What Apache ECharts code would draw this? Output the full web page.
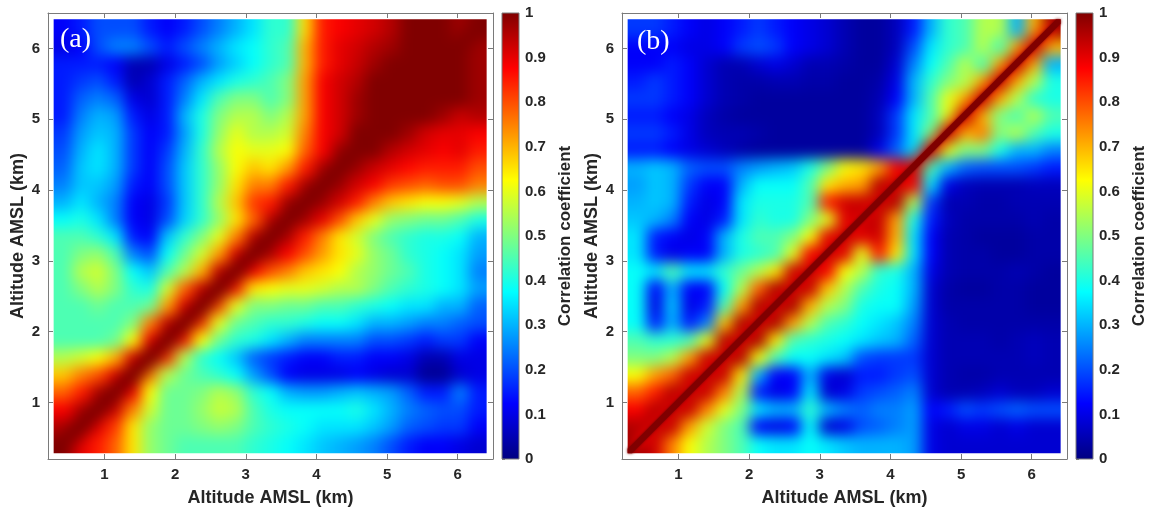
<!DOCTYPE html>
<html>
<head>
<meta charset="utf-8">
<title>Altitude correlation matrices</title>
<script src="https://cdn.jsdelivr.net/npm/echarts@6/dist/echarts.min.js"></script>
<style>
  html, body { margin: 0; padding: 0; background: #fff; }
  #wrap { position: relative; width: 1150px; height: 517px; }
  #heat, #frame { position: absolute; left: 0; top: 0; width: 1150px; height: 517px; }
  /* the measured matrix is drawn blocky, this softens it like the original imagesc output */
  #heat { filter: blur(7px); }
</style>
</head>
<body>
<div id="wrap">
  <div id="heat"></div>
  <div id="frame"></div>
</div>
<script>
// cell centres (km AMSL), same for both axes; rows of the matrices go bottom -> top
var altitudes = [0.42, 0.67, 0.91, 1.15, 1.40, 1.64, 1.89, 2.13, 2.37, 2.62, 2.86, 3.11, 3.35,
                 3.59, 3.84, 4.08, 4.33, 4.57, 4.81, 5.06, 5.30, 5.55, 5.79, 6.03, 6.28];
var altRange = [0.28, 6.41];
var kmTicks = [1, 2, 3, 4, 5, 6];
var colorTicks = [0, 1];

// panel (a)
var corrA = [
  [1, .9, .85, .78, .65, .52, .48, .45, .45, .45, .45, .42, .4, .38, .35, .32, .3, .28, .25, .2, .15, .12, .12, .1, .08],
  [.95, 1, .9, .82, .65, .52, .48, .48, .5, .52, .5, .45, .42, .4, .38, .35, .35, .35, .32, .28, .22, .2, .18, .18, .12],
  [.88, .95, 1, .92, .75, .58, .48, .48, .52, .57, .55, .45, .4, .38, .38, .38, .38, .4, .35, .3, .25, .22, .2, .2, .15],
  [.78, .85, .95, 1, .88, .62, .48, .48, .5, .55, .52, .42, .38, .3, .28, .28, .3, .32, .3, .28, .22, .15, .15, .25, .15],
  [.68, .75, .8, .9, 1, .75, .55, .48, .45, .42, .38, .28, .2, .12, .1, .1, .1, .12, .1, .08, .08, .02, .02, .08, .1],
  [.55, .58, .62, .7, .9, 1, .82, .55, .42, .38, .32, .22, .18, .15, .12, .12, .15, .15, .12, .12, .1, .05, .05, .1, .1],
  [.45, .45, .45, .48, .62, .88, 1, .85, .62, .48, .42, .4, .35, .3, .25, .25, .25, .25, .2, .2, .18, .15, .18, .18, .12],
  [.45, .45, .45, .45, .5, .75, .92, 1, .82, .6, .48, .45, .42, .42, .4, .38, .38, .35, .3, .3, .28, .25, .25, .22, .2],
  [.45, .45, .48, .45, .45, .48, .72, .9, 1, .8, .6, .5, .5, .48, .48, .45, .45, .42, .4, .38, .35, .35, .3, .3, .22],
  [.45, .5, .55, .5, .42, .4, .58, .78, .92, 1, .85, .65, .62, .6, .6, .58, .55, .55, .5, .45, .42, .4, .38, .35, .28],
  [.45, .55, .58, .5, .38, .32, .45, .55, .7, .92, 1, .88, .8, .75, .68, .65, .62, .55, .52, .48, .45, .4, .38, .35, .25],
  [.45, .5, .52, .45, .25, .2, .38, .48, .58, .72, .9, 1, .95, .88, .8, .72, .65, .6, .52, .48, .42, .4, .38, .35, .28],
  [.45, .45, .42, .35, .15, .12, .32, .42, .5, .6, .75, .93, 1, .95, .85, .75, .65, .58, .5, .45, .42, .4, .4, .38, .3],
  [.38, .4, .35, .25, .12, .1, .2, .33, .42, .52, .65, .78, .93, 1, .96, .9, .8, .68, .6, .52, .5, .48, .48, .45, .4],
  [.3, .35, .3, .25, .12, .1, .18, .32, .42, .55, .68, .82, .85, .96, 1, .97, .92, .85, .75, .68, .65, .62, .62, .6, .55],
  [.25, .32, .32, .28, .15, .12, .2, .32, .42, .52, .65, .75, .75, .85, .95, 1, .97, .92, .88, .82, .8, .78, .8, .8, .75],
  [.22, .32, .35, .3, .18, .12, .2, .32, .42, .52, .62, .68, .65, .72, .85, .95, 1, .97, .93, .9, .87, .85, .85, .85, .8],
  [.2, .3, .35, .3, .18, .12, .18, .3, .42, .55, .62, .6, .6, .62, .78, .88, .97, 1, 1, .95, .92, .9, .88, .9, .85],
  [.18, .28, .32, .3, .18, .12, .15, .28, .4, .52, .6, .55, .55, .58, .75, .88, .92, 1, 1, 1, .97, .92, .9, .9, .88],
  [.15, .25, .3, .28, .15, .1, .15, .3, .4, .5, .55, .55, .5, .55, .72, .88, .92, .97, 1, 1, 1, 1, .97, .93, .95],
  [.15, .22, .25, .22, .1, .08, .15, .25, .35, .45, .5, .5, .45, .5, .72, .88, .92, .97, 1, 1, 1, 1, 1, 1, .97],
  [.15, .18, .2, .15, .05, .08, .15, .22, .3, .35, .4, .42, .45, .5, .72, .88, .92, .95, 1, 1, 1, 1, 1, 1, .97],
  [.15, .15, .15, .12, .05, .05, .1, .15, .2, .28, .33, .38, .42, .45, .7, .85, .9, .93, .97, 1, 1, 1, 1, 1, .97],
  [.1, .12, .2, .25, .25, .2, .15, .2, .25, .3, .35, .38, .42, .45, .7, .85, .9, .92, .95, .97, 1, 1, 1, 1, .97],
  [.12, .15, .2, .2, .2, .15, .12, .15, .2, .25, .3, .35, .42, .42, .66, .85, .88, .9, .92, .95, 1, 1, 1, .97, 1]
];

// panel (b)
var corrB = [
  [1, .92, .75, .62, .55, .5, .45, .38, .35, .35, .38, .35, .32, .3, .3, .3, .28, .1, .08, .08, .08, .08, .08, .08, .08],
  [.95, 1, .93, .72, .58, .5, .45, .12, .1, .12, .38, .08, .1, .2, .22, .25, .28, .1, .08, .1, .1, .08, .1, .08, .08],
  [.88, .95, 1, .93, .75, .6, .5, .35, .3, .3, .42, .3, .25, .22, .25, .25, .28, .12, .15, .2, .18, .2, .22, .2, .2],
  [.78, .85, .95, 1, .93, .75, .55, .15, .1, .12, .35, .08, .1, .18, .2, .22, .25, .08, .05, .05, .06, .08, .06, .06, .08],
  [.62, .72, .78, .93, 1, .93, .65, .3, .12, .12, .3, .1, .08, .15, .15, .18, .2, .08, .05, .04, .04, .05, .05, .05, .05],
  [.5, .5, .55, .72, .93, 1, .95, .62, .45, .38, .38, .35, .32, .2, .18, .18, .18, .08, .05, .05, .05, .05, .05, .06, .05],
  [.45, .42, .42, .45, .6, .95, 1, .96, .65, .45, .42, .4, .38, .35, .32, .3, .22, .08, .05, .05, .05, .04, .05, .06, .05],
  [.38, .15, .3, .15, .25, .68, .96, 1, .96, .72, .55, .45, .42, .38, .35, .32, .25, .08, .05, .04, .04, .04, .04, .04, .04],
  [.38, .1, .32, .1, .15, .45, .72, .96, 1, .96, .7, .55, .5, .4, .38, .38, .28, .08, .04, .04, .04, .04, .04, .03, .03],
  [.38, .12, .3, .12, .12, .38, .55, .78, .96, 1, .93, .68, .55, .45, .4, .38, .3, .08, .04, .03, .03, .04, .04, .03, .03],
  [.38, .35, .45, .35, .35, .42, .48, .55, .65, .93, 1, .88, .62, .55, .42, .4, .3, .1, .05, .04, .04, .04, .05, .04, .03],
  [.35, .15, .1, .12, .12, .3, .4, .42, .45, .6, .88, 1, .9, .6, .85, .65, .35, .12, .05, .04, .04, .03, .03, .04, .04],
  [.35, .15, .12, .1, .12, .3, .4, .45, .45, .5, .62, .9, 1, .9, .92, .7, .35, .12, .05, .04, .03, .03, .03, .04, .04],
  [.32, .3, .25, .12, .1, .15, .35, .42, .4, .4, .5, .6, .9, 1, .93, .72, .4, .15, .06, .04, .04, .04, .04, .05, .04],
  [.3, .32, .3, .15, .1, .12, .35, .4, .4, .4, .45, .85, .92, .93, 1, .95, .55, .18, .05, .05, .04, .04, .05, .05, .05],
  [.28, .32, .3, .18, .12, .12, .3, .38, .38, .38, .45, .65, .7, .72, .95, 1, .88, .35, .1, .06, .05, .05, .05, .06, .06],
  [.3, .32, .3, .22, .2, .2, .25, .28, .3, .32, .4, .5, .62, .65, .72, .88, 1, .45, .3, .22, .2, .2, .2, .18, .15],
  [.15, .15, .12, .1, .08, .06, .04, .03, .03, .03, .03, .03, .03, .03, .1, .22, .35, 1, .6, .5, .5, .4, .3, .3, .25],
  [.18, .18, .15, .1, .06, .05, .05, .04, .03, .03, .03, .03, .03, .03, .06, .18, .35, .5, 1, .7, .75, .5, .55, .45, .4],
  [.15, .15, .12, .1, .06, .04, .03, .03, .03, .03, .03, .03, .03, .03, .06, .18, .35, .45, .6, 1, .7, .5, .45, .55, .45],
  [.18, .18, .15, .12, .08, .05, .04, .03, .03, .03, .03, .03, .03, .03, .05, .12, .3, .45, .6, .7, 1, .7, .55, .42, .4],
  [.15, .18, .15, .12, .08, .05, .04, .04, .05, .05, .04, .04, .03, .03, .04, .1, .3, .42, .5, .55, .7, 1, .7, .55, .4],
  [.12, .12, .15, .12, .08, .05, .05, .08, .1, .08, .05, .05, .04, .03, .03, .08, .25, .38, .45, .55, .45, .7, 1, .7, .3],
  [.12, .12, .12, .1, .1, .12, .18, .2, .18, .12, .1, .08, .05, .03, .03, .06, .2, .35, .42, .45, .55, .45, .7, 1, .7],
  [.18, .18, .15, .12, .1, .12, .15, .18, .15, .12, .1, .08, .05, .03, .03, .06, .15, .3, .42, .45, .55, .55, .3, .7, 1]
];

// MATLAB jet
var jet = ['#000080', '#0000ff', '#0080ff', '#00ffff', '#80ff80', '#ffff00', '#ff8000', '#ff0000', '#800000'];

var grey = '#7a7a7a';
var ink = '#262626';
var sans = '"Liberation Sans", Arial, sans-serif';
var tickFont = { color: ink, fontSize: 15, fontWeight: 'bold', fontFamily: sans };
var nameFont = { color: ink, fontSize: 18, fontWeight: 'bold', fontFamily: sans };
var barNameFont = { color: ink, fontSize: 17, fontWeight: 'bold', fontFamily: sans };
var panelGrids = [
  { left: 48, top: 13, width: 445, height: 446 },
  { left: 622, top: 13, width: 445, height: 446 }
];
var bleed = 22;     // px the outer cells reach past the clip, so the blur has no soft rim
var ridgeHalf = 4.5; // px, horizontal half width of the sharp ridge in panel (b)

// the autocorrelation ridge (r = 1 where both altitudes are equal)
var diagonal = [[altRange[0], altRange[0]], [altRange[1], altRange[1]]];

function cellData(corr) {
  var out = [];
  for (var i = 0; i < corr.length; i++) {
    for (var j = 0; j < corr[i].length; j++) {
      out.push([altitudes[j], altitudes[i], corr[i][j], j, i]);
    }
  }
  return out;
}

// cell borders sit halfway between neighbouring altitudes
var last = altitudes.length - 1;
function lowEdge(k) { return k === 0 ? altRange[0] : (altitudes[k - 1] + altitudes[k]) / 2; }
function highEdge(k) { return k === last ? altRange[1] : (altitudes[k] + altitudes[k + 1]) / 2; }

function renderCell(params, api) {
  var j = api.value(3), i = api.value(4);
  var p0 = api.coord([lowEdge(j), highEdge(i)]);
  var p1 = api.coord([highEdge(j), lowEdge(i)]);
  var x0 = p0[0] - (j === 0 ? bleed : 0), x1 = p1[0] + (j === last ? bleed : 0.8);
  var y0 = p0[1] - (i === last ? bleed : 0), y1 = p1[1] + (i === 0 ? bleed : 0.8);
  return {
    type: 'rect',
    shape: { x: x0, y: y0, width: x1 - x0, height: y1 - y0 },
    style: { fill: api.visual('color') }
  };
}

function ridge(axisIndex, width, color) {
  return {
    type: 'line', xAxisIndex: axisIndex, yAxisIndex: axisIndex, data: diagonal,
    symbol: 'none', silent: true, z: 5,
    lineStyle: { width: width, color: color, cap: 'butt' }
  };
}

// ---- blurred layer: the two matrices only
var heat = echarts.init(document.getElementById('heat'));
heat.setOption({
  animation: false,
  grid: panelGrids,
  xAxis: [0, 1].map(function (g) { return { type: 'value', gridIndex: g, min: 0.2, max: 6.5, show: false }; }),
  yAxis: [0, 1].map(function (g) { return { type: 'value', gridIndex: g, min: 0.2, max: 6.5, show: false }; }),
  visualMap: { type: 'continuous', show: false, min: 0, max: 1, dimension: 2, seriesIndex: [0, 1], inRange: { color: jet } },
  series: [
    { type: 'custom', xAxisIndex: 0, yAxisIndex: 0, encode: { x: 0, y: 1 },
      renderItem: renderCell, data: cellData(corrA), silent: true },
    { type: 'custom', xAxisIndex: 1, yAxisIndex: 1, encode: { x: 0, y: 1 },
      renderItem: renderCell, data: cellData(corrB), silent: true },
    ridge(0, 18, jet[8]),
    ridge(1, 13, '#e00000')
  ]
});

// clip the blurred layer to the image extent of each panel
var clip = [0, 1].map(function (g) {
  var lo = heat.convertToPixel({ gridIndex: g }, [altRange[0], altRange[0]]);
  var hi = heat.convertToPixel({ gridIndex: g }, [altRange[1], altRange[1]]);
  return 'M' + lo[0] + ',' + hi[1] + ' H' + hi[0] + ' V' + lo[1] + ' H' + lo[0] + ' Z';
}).join(' ');
document.getElementById('heat').style.clipPath = "path('" + clip + "')";

// ---- sharp layer: frames, ticks, colour bars, labels
var jetStops = jet.map(function (c, k) { return { offset: k / (jet.length - 1), color: c }; });

function renderBar(params, api) {
  var p0 = api.coord([0, colorTicks[1]]);
  var p1 = api.coord([1, colorTicks[0]]);
  return {
    type: 'rect',
    shape: { x: p0[0], y: p0[1], width: p1[0] - p0[0], height: p1[1] - p0[1] },
    style: { fill: new echarts.graphic.LinearGradient(0, 1, 0, 0, jetStops), stroke: grey, lineWidth: 1 }
  };
}

// narrow band along the diagonal that stays inside the image square
function renderRidge(params, api) {
  var p0 = api.coord(diagonal[0]), p1 = api.coord(diagonal[1]), h = ridgeHalf;
  return {
    type: 'polygon',
    shape: { points: [[p0[0], p0[1]], [p0[0] + h, p0[1]], [p1[0], p1[1] + h],
                      [p1[0], p1[1]], [p1[0] - h, p1[1]], [p0[0], p0[1] - h]] },
    style: { fill: jet[8], shadowBlur: 3, shadowColor: jet[8] }
  };
}

function kmAxis(gridIndex, position, withLabels) {
  return {
    type: 'value', gridIndex: gridIndex, position: position,
    min: 0.2, max: 6.5,
    axisLine: { show: true, onZero: false, lineStyle: { color: grey, width: 1 } },
    axisTick: { show: true, inside: true, length: 5, customValues: kmTicks, lineStyle: { color: grey } },
    axisLabel: { show: withLabels, customValues: kmTicks, margin: 8, textStyle: tickFont },
    splitLine: { show: false },
    name: withLabels ? 'Altitude AMSL (km)' : '',
    nameLocation: 'middle',
    nameTextStyle: nameFont
  };
}

var xAxes = [], yAxes = [];
[0, 1].forEach(function (g) {
  var xb = kmAxis(g, 'bottom', true); xb.nameGap = 30;
  var yl = kmAxis(g, 'left', true); yl.nameGap = 21; yl.nameRotate = 90;
  xAxes.push(xb, kmAxis(g, 'top', false));
  yAxes.push(yl, kmAxis(g, 'right', false));
});
[2, 3].forEach(function (g) {
  xAxes.push({ type: 'value', gridIndex: g, min: 0, max: 1, show: false });
  yAxes.push({
    type: 'value', gridIndex: g, position: 'right', min: 0, max: 1, interval: 0.1,
    axisLine: { show: false },
    axisTick: { show: true, inside: false, length: 3, lineStyle: { color: grey } },
    axisLabel: { margin: 6, textStyle: tickFont },
    splitLine: { show: false },
    name: 'Correlation coefficient', nameLocation: 'middle', nameRotate: 90, nameGap: 38,
    nameTextStyle: barNameFont
  });
});

var frame = echarts.init(document.getElementById('frame'));
frame.setOption({
  animation: false,
  grid: panelGrids.concat([
    { left: 502, top: 13, width: 17, height: 446 },
    { left: 1076, top: 13, width: 17, height: 446 }
  ]),
  xAxis: xAxes,
  yAxis: yAxes,
  series: [
    { type: 'custom', xAxisIndex: 4, yAxisIndex: 4, renderItem: renderBar, data: [[0, 0]], silent: true },
    { type: 'custom', xAxisIndex: 5, yAxisIndex: 5, renderItem: renderBar, data: [[0, 0]], silent: true },
    { type: 'custom', xAxisIndex: 2, yAxisIndex: 2, renderItem: renderRidge, data: [diagonal[0]], silent: true }
  ],
  graphic: [
    { type: 'text', left: 60, top: 26, z: 100,
      style: { text: '(a)', fill: '#fff', font: '28px "Liberation Serif", "Times New Roman", serif' } },
    { type: 'text', left: 637, top: 28, z: 100,
      style: { text: '(b)', fill: '#fff', font: '28px "Liberation Serif", "Times New Roman", serif' } }
  ]
});
</script>
</body>
</html>
